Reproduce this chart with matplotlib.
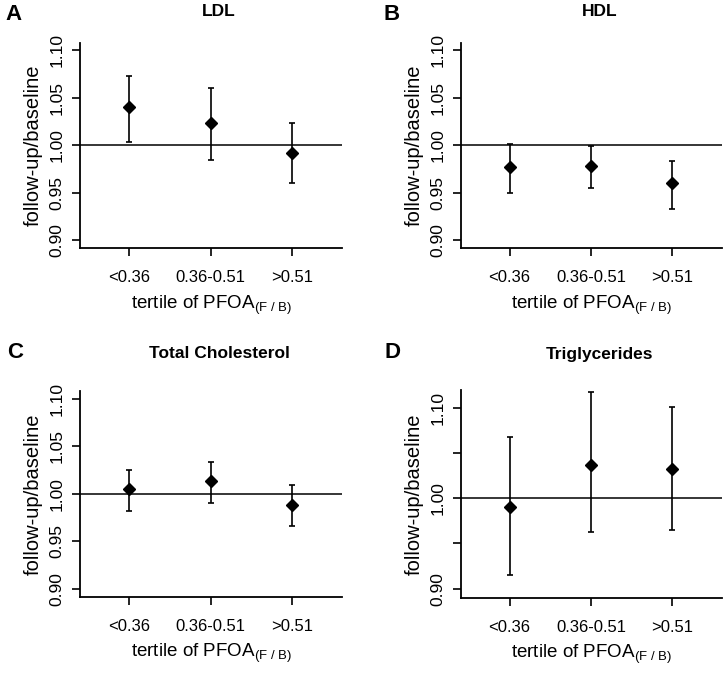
import matplotlib
matplotlib.use("Agg")
import matplotlib.pyplot as plt
import numpy as np

plt.rcParams['font.family'] = ['Liberation Sans', 'DejaVu Sans']
plt.rcParams['mathtext.fontset'] = 'custom'
plt.rcParams['mathtext.rm'] = 'Liberation Sans'
plt.rcParams['mathtext.it'] = 'Liberation Sans'

categories = ["<0.36", "0.36-0.51", ">0.51"]
panel_letters = ["A", "B", "C", "D"]
panel_titles = ["LDL", "HDL", "Total Cholesterol", "Triglycerides"]

ldl_est = [1.040, 1.023, 0.992]
ldl_lo = [1.003, 0.985, 0.960]
ldl_hi = [1.073, 1.060, 1.023]

hdl_est = [0.977, 0.978, 0.960]
hdl_lo = [0.950, 0.955, 0.933]
hdl_hi = [1.001, 0.999, 0.984]

tc_est = [1.005, 1.013, 0.988]
tc_lo = [0.982, 0.990, 0.966]
tc_hi = [1.025, 1.033, 1.009]

tg_est = [0.990, 1.037, 1.032]
tg_lo = [0.915, 0.962, 0.965]
tg_hi = [1.067, 1.117, 1.101]

yticks = [0.90, 0.95, 1.00, 1.05, 1.10]
ytick_labels_full = ["0.90", "0.95", "1.00", "1.05", "1.10"]
ytick_labels_tg = ["0.90", "", "1.00", "", "1.10"]

W, H = 726, 673
fig = plt.figure(figsize=(W / 100, H / 100), dpi=100)

def px(l, r, t, b):
    return [l / W, (H - b) / H, (r - l) / W, (b - t) / H]

rects = [px(80, 342, 42.7, 248), px(460.7, 722, 42.7, 248),
         px(80, 342, 391, 596.7), px(460.7, 722, 390.3, 597.7)]
ylims = [(0.892, 1.108), (0.892, 1.108), (0.892, 1.108), (0.890, 1.119)]
data = [(ldl_est, ldl_lo, ldl_hi), (hdl_est, hdl_lo, hdl_hi),
        (tc_est, tc_lo, tc_hi), (tg_est, tg_lo, tg_hi)]
title_pos = [(219, 12), (600, 12), (219, 354), (600, 354)]
letter_pos = [(13, 15), (392, 15), (15, 352), (393, 353)]

x = np.arange(1, len(categories) + 1)
for i in range(4):
    ax = fig.add_axes(rects[i])
    est, lo, hi = data[i]
    est = np.array(est); lo = np.array(lo); hi = np.array(hi)
    ax.axhline(1.0, color='black', lw=1.1, zorder=1)
    ax.errorbar(x, est, yerr=[est - lo, hi - est], fmt='D', color='black',
                ms=6, elinewidth=1.2, capsize=2, capthick=1.2, zorder=3)
    ax.set_xlim(0.4, 3.61)
    ax.set_ylim(*ylims[i])
    for s in ['top', 'right']:
        ax.spines[s].set_visible(False)
    for s in ['left', 'bottom']:
        ax.spines[s].set_linewidth(1.3)
    ax.set_xticks(x)
    ax.set_xticklabels(categories, fontsize=12)
    ax.set_yticks(yticks)
    ax.set_yticklabels(ytick_labels_tg if i == 3 else ytick_labels_full,
                       rotation=90, va='center', fontsize=12.5)
    ax.tick_params(axis='both', direction='out', length=6, width=1.2)
    ax.tick_params(axis='x', pad=10)
    ax.tick_params(axis='y', pad=5)
    ax.set_ylabel("follow-up/baseline", fontsize=14.5, labelpad=5)
    ax.set_xlabel(r"tertile of PFOA$_{\mathrm{(F\ /\ B)}}$", fontsize=13.5, labelpad=6)
    fig.text(title_pos[i][0] / W, 1 - title_pos[i][1] / H, panel_titles[i],
             ha='center', va='center', fontsize=12.5, fontweight='bold')
    fig.text(letter_pos[i][0] / W, 1 - letter_pos[i][1] / H, panel_letters[i],
             ha='center', va='center', fontsize=16, fontweight='bold')

fig.savefig("out.png", dpi=100)
